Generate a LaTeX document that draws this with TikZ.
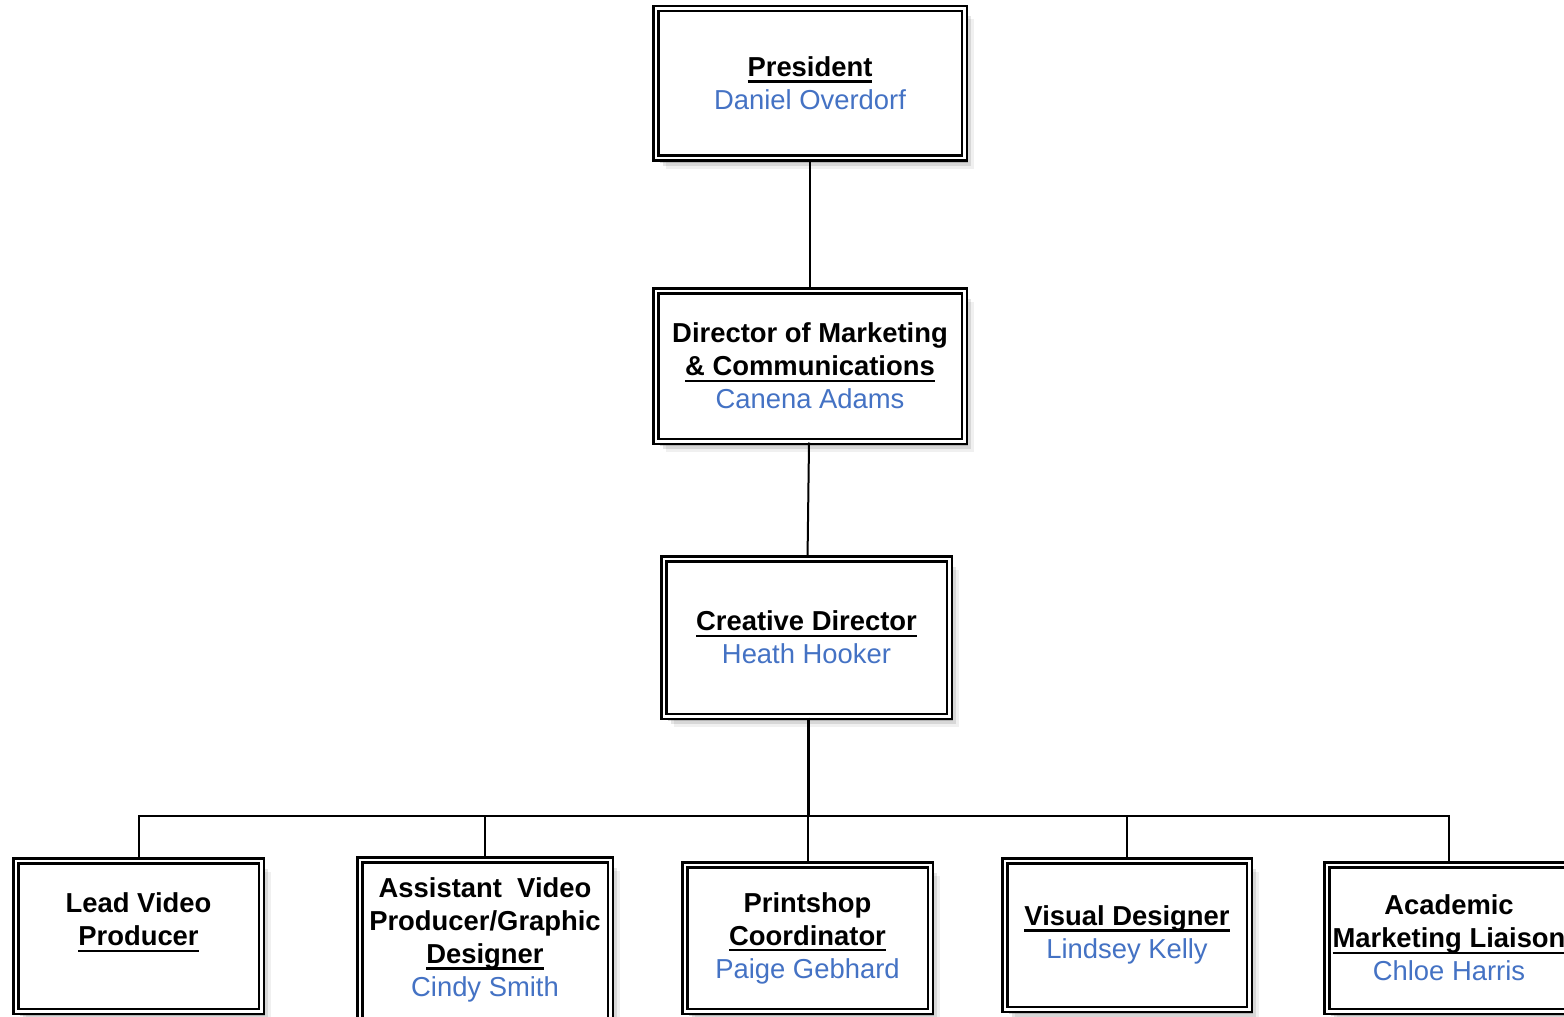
\documentclass[tikz,border=0pt]{standalone}
\usepackage{fontspec}
\setmainfont{Liberation Sans}
\usetikzlibrary{shadows}

\definecolor{namecol}{RGB}{68,114,196}

\newlength\ulwd
\newcommand{\ulbar}[1]{\leavevmode\settowidth{\ulwd}{#1}\rlap{\rule[-6.3pt]{\ulwd}{2.5pt}}#1}
\newcommand{\who}[1]{{\color{namecol}\mdseries #1}}

\begin{document}
\begin{tikzpicture}[x=1pt, y=-1pt,
    post/.style={draw, double, line width=2.5pt, double distance=2.5pt, fill=white,
        drop shadow={shadow xshift=10pt, shadow yshift=-11pt, opacity=0.06, fill=black},
        drop shadow={shadow xshift=7pt, shadow yshift=-8pt, opacity=0.10, fill=black},
        drop shadow={shadow xshift=4pt, shadow yshift=-5pt, opacity=0.16, fill=black},
        align=center, inner sep=0pt, font=\fontsize{27.4}{33}\selectfont\bfseries},
    link/.style={line width=2pt}]
    \useasboundingbox (0,0) rectangle (1564,1017);
    \fill[white] (0,0) rectangle (1564,1017);
    \clip (0,0) rectangle (1564,1017);

    % top of the chart
    \node[post, minimum width=308.5pt, minimum height=149.5pt] (pres) at (810,83)
        {\ulbar{President}\\\who{Daniel Overdorf}};
    \node[post, minimum width=308.5pt, minimum height=150.5pt] (dir) at (810,366)
        {Director of Marketing\\\ulbar{\& Communications}\\\who{Canena Adams}};
    \node[post, minimum width=285.5pt, minimum height=157.5pt] (cre) at (806.5,637.5)
        {\ulbar{Creative Director}\\\who{Heath Hooker}};

    % bottom row
    \node[post, minimum width=245.5pt, minimum height=150.5pt] (lead) at (138.5,936)
        {Lead Video\\\ulbar{Producer}\\\mbox{}};
    \node[post, minimum width=250.5pt, minimum height=160.5pt] (asst) at (485,940)
        {Assistant\ \ Video\\Producer/Graphic\\\ulbar{Designer}\\\who{Cindy Smith}};
    \node[post, minimum width=245.5pt, minimum height=146.5pt] (print) at (807.5,938)
        {Printshop\\\ulbar{Coordinator}\\\who{Paige Gebhard}};
    \node[post, minimum width=244.5pt, minimum height=148.5pt] (vis) at (1127,935)
        {\ulbar{Visual Designer}\\\who{Lindsey Kelly}};
    \node[post, minimum width=244.5pt, minimum height=146.5pt] (acad) at (1449,938)
        {Academic\\\ulbar{Marketing Liaison}\\\who{Chloe Harris}};

    % connectors
    \coordinate (bus) at (808,816);
    \draw[link] (pres) -- (dir);
    \draw[link] (dir) -- (cre);
    \draw[link, line width=3pt] (cre.south -| bus) -- (bus);
    \foreach \n in {lead,asst,print,vis,acad}
        \draw[link] (bus) -| (\n.north);

\end{tikzpicture}
\end{document}
